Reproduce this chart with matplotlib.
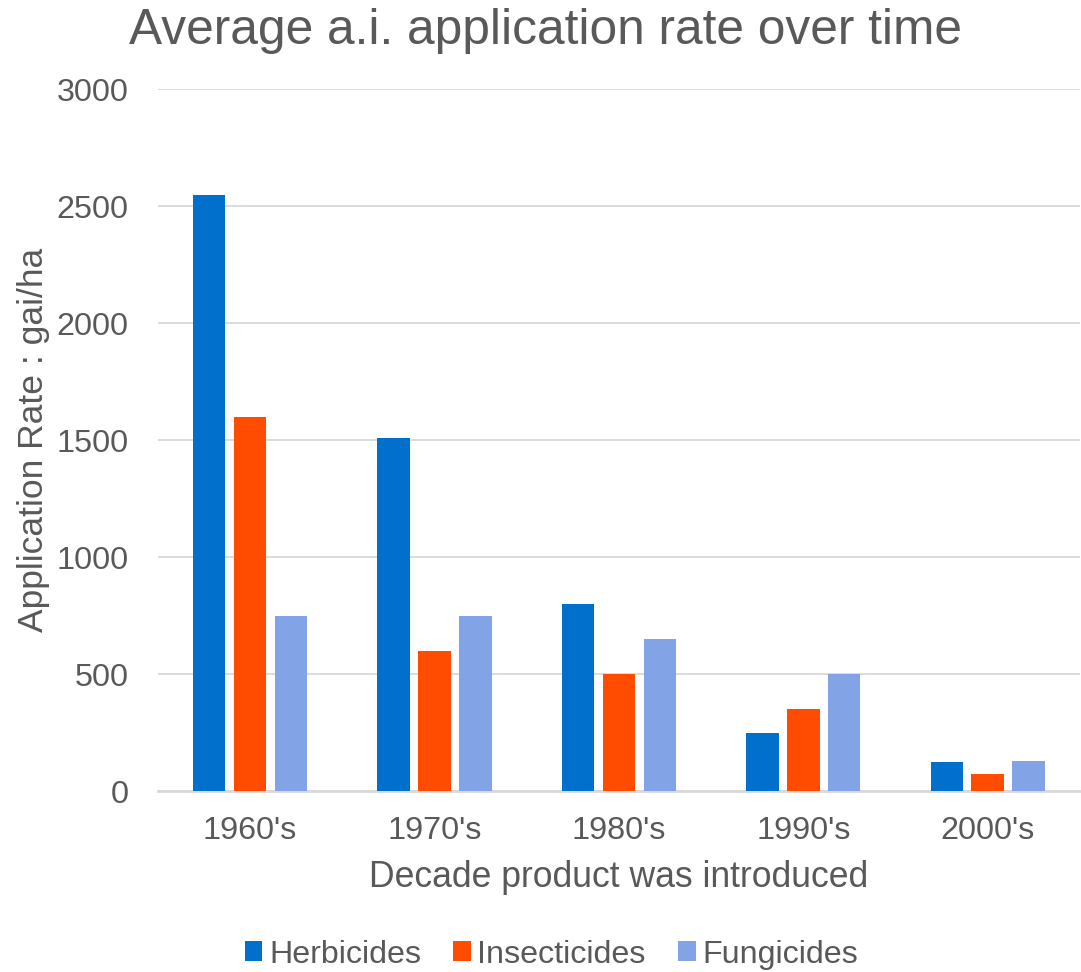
import numpy as np
import matplotlib
matplotlib.use('Agg')
import matplotlib.pyplot as plt

plt.rcParams['font.family'] = ['Liberation Sans', 'DejaVu Sans']

decades = ["1960's", "1970's", "1980's", "1990's", "2000's"]
herbicides = [2550, 1510, 800, 250, 125]
insecticides = [1600, 600, 500, 350, 75]
fungicides = [750, 750, 650, 500, 130]

grey = '#595959'
colors = ['#0070CC', '#FF4C00', '#82A4E6']
names = ['Herbicides', 'Insecticides', 'Fungicides']

fig = plt.figure(figsize=(10.81, 9.72), dpi=100)
ax = fig.add_axes([0.146, 0.186, 0.853, 0.722])

x = np.arange(len(decades))
width = 0.176
step = 0.222
for i, (vals, c, n) in enumerate(zip([herbicides, insecticides, fungicides], colors, names)):
    ax.bar(x + (i - 1) * step, vals, width, color=c, label=n, zorder=3)

ax.set_xlim(-0.5, len(decades) - 0.5)
ax.set_ylim(0, 3000)
ax.set_yticks(range(0, 3001, 500))
ax.set_xticks(x)
ax.set_xticklabels(decades)
ax.grid(axis='y', color='#D9D9D9', linewidth=1.3, zorder=0)
for s in ['top', 'left', 'right']:
    ax.spines[s].set_visible(False)
ax.spines['bottom'].set_color('#D9D9D9')
ax.spines['bottom'].set_linewidth(2)
ax.tick_params(axis='both', length=0, labelsize=23.3, colors=grey)
ax.tick_params(axis='x', pad=18)
ax.tick_params(axis='y', pad=21)

ax.set_xlabel('Decade product was introduced', fontsize=25.6, color=grey, labelpad=10)
ax.set_ylabel('Application Rate : gai/ha', fontsize=25.5, color=grey)
ax.yaxis.set_label_coords(-0.117, 0.5)
fig.text(0.505, 0.968, 'Average a.i. application rate over time', fontsize=35.7,
         color=grey, ha='center', va='center')

leg = fig.legend(loc='center', bbox_to_anchor=(0.51, 0.018), ncol=3, frameon=False,
                 fontsize=23.2, handlelength=0.55, handleheight=0.55, handletextpad=0.2,
                 columnspacing=1.0)
for t in leg.get_texts():
    t.set_color(grey)

fig.savefig('out.png', dpi=100)
